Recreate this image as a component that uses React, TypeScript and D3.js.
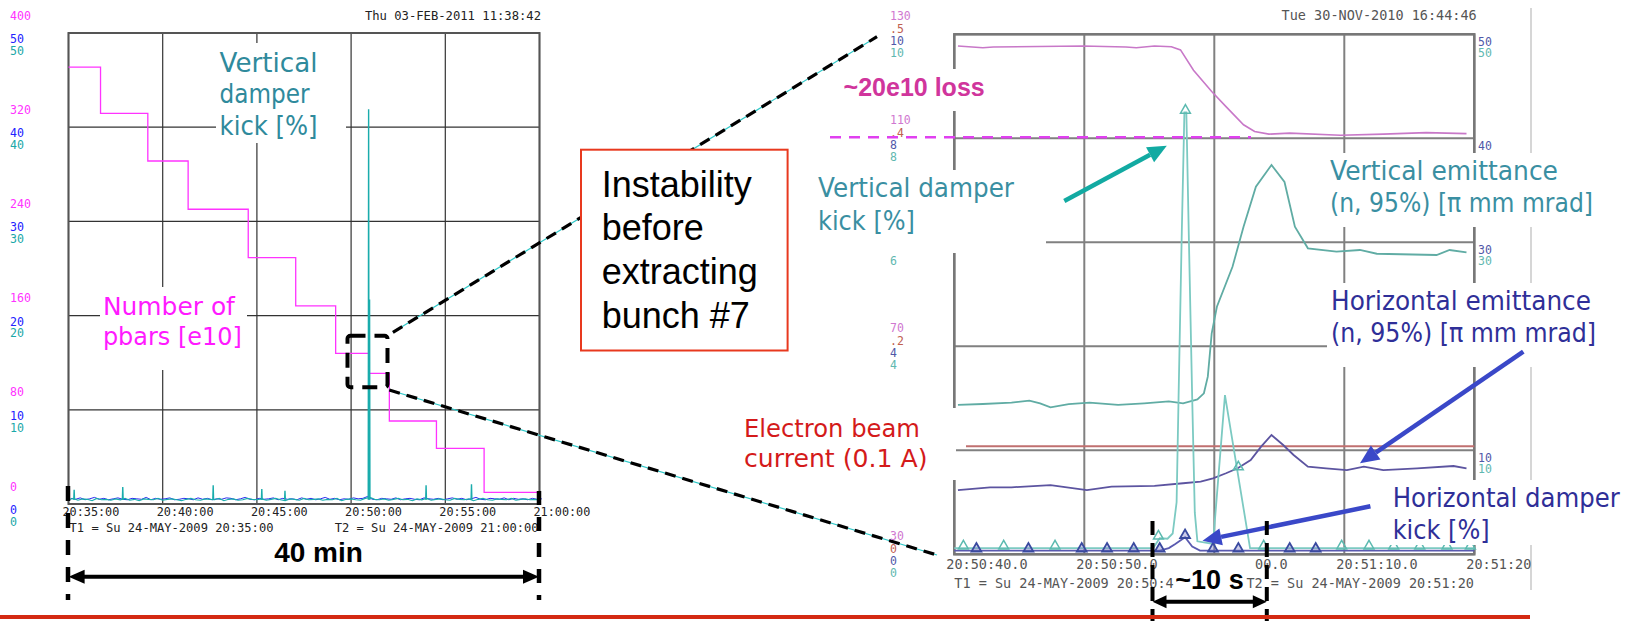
import React from "react";
import * as d3 from "d3";

// ================= LEFT PANEL DATA (minutes after 20:35:00) =================
const leftTimeLabels = ["20:35:00", "20:40:00", "20:45:00", "20:50:00", "20:55:00", "21:00:00"];
const leftTimeTicks = [0, 5, 10, 15, 20, 25];
const leftPbarTicks = [0, 80, 160, 240, 320, 400];
const leftKickTicks = [0, 10, 20, 30, 40, 50];

// Number of pbars [e10] – staircase
const pbarStepTimes = [0, 1.7, 4.21, 6.35, 9.54, 12.06, 14.18, 15.95, 17.03, 19.53, 22.06, 25];
const pbarStepValues = [371, 331.7, 291.3, 250.3, 209.2, 168.2, 128.0, 111.0, 70.5, 47.3, 9.9, 9.9];

// damper kick baselines, sampled every 0.25 min
const noiseStep = 0.25;
const tealNoise = [
  0.45, 0.6, 0.4, 0.55, 0.5, 0.35, 0.6, 0.45, 0.5, 0.4,
  0.55, 0.45, 0.6, 0.4, 0.5, 0.35, 0.55, 0.5, 0.45, 0.6,
  0.4, 0.5, 0.55, 0.45, 0.35, 0.5, 0.6, 0.45, 0.4, 0.55,
  0.5, 0.45, 0.6, 0.35, 0.5, 0.55, 0.4, 0.45, 0.6, 0.5,
  0.45, 0.55, 0.4, 0.5, 0.6, 0.45, 0.35, 0.55, 0.5, 0.4,
  0.6, 0.45, 0.5, 0.55, 0.4, 0.5, 0.45, 0.6, 0.35, 0.5,
  0.55, 0.45, 0.4, 0.6, 0.7, 0.5, 0.45, 0.55, 0.4, 0.5,
  0.6, 0.45, 0.5, 0.35, 0.55, 0.45, 0.6, 0.4, 0.5, 0.55,
  0.45, 0.4, 0.6, 0.5, 0.45, 0.55, 0.35, 0.5, 0.6, 0.45,
  0.4, 0.55, 0.5, 0.45, 0.6, 0.4, 0.5, 0.55, 0.45, 0.5, 0.4,
];
const blueNoise = [
  0.6, 0.5, 0.65, 0.45, 0.55, 0.7, 0.5, 0.6, 0.45, 0.55,
  0.65, 0.5, 0.45, 0.6, 0.55, 0.5, 0.7, 0.45, 0.6, 0.5,
  0.55, 0.65, 0.45, 0.5, 0.6, 0.55, 0.45, 0.65, 0.5, 0.6,
  0.45, 0.55, 0.5, 0.65, 0.6, 0.45, 0.55, 0.7, 0.5, 0.45,
  0.6, 0.5, 0.55, 0.65, 0.45, 0.6, 0.5, 0.55, 0.45, 0.65,
  0.5, 0.6, 0.45, 0.55, 0.7, 0.5, 0.6, 0.45, 0.55, 0.5,
  0.65, 0.55, 0.6, 0.8, 0.5, 0.45, 0.6, 0.55, 0.5, 0.65,
  0.45, 0.55, 0.6, 0.5, 0.45, 0.65, 0.55, 0.5, 0.6, 0.45,
  0.55, 0.65, 0.5, 0.6, 0.45, 0.55, 0.7, 0.5, 0.45, 0.6,
  0.55, 0.5, 0.65, 0.45, 0.6, 0.5, 0.55, 0.45, 0.6, 0.5, 0.55,
];
// vertical damper kick spikes
const tealSpikeTimes = [0.3, 2.88, 7.68, 10.26, 11.49, 18.98, 21.39, 15.93, 15.98];
const tealSpikeValues = [1.5, 1.8, 2.0, 1.6, 1.4, 2.0, 2.1, 41.9, 21.7];

// ================= RIGHT PANEL DATA (seconds after 20:50:40) =================
const rightTimeLabels = ["20:50:40.0", "20:50:50.0", "00.0", "20:51:10.0", "20:51:20"];
const rightTimeTicks = [0, 10, 20, 30, 40];
const rightLabelShift = [0, 0, 6, 0, 0]; // characters hidden by the "~10 s" caption
// left-hand stacked scales (pbars, e-beam current, H kick, V kick); null = hidden by a caption
const rPbarTicks = ["30", null, "70", null, "110", "130"];
const rCurrentTicks = ["0", null, ".2", null, ".4", ".5"];
const rHKickTicks = ["0", null, "4", null, "8", "10"];
const rVKickTicks = ["0", null, "4", "6", "8", "10"];
// right-hand scales (H emittance, V emittance)
const rHEmitTicks = [null, "10", null, "30", "40", "50"];
const rVEmitTicks = [null, "10", null, "30", null, "50"];

const pbarT = [0.28, 2.2, 3.0, 9.9, 13.2, 14.0, 15.4, 16.7, 17.4, 18.4, 19.8, 20.9, 22.25, 23.1, 24.2, 25.8, 29.7, 33.0, 36.3, 39.4];
const pbarV = [127.75, 127.4, 127.55, 127.75, 127.55, 127.4, 127.75, 127.6, 127.0, 123.1, 119.0, 116.1, 112.6, 111.3, 110.8, 111.0, 110.6, 110.8, 111.1, 110.9];
const lossLevel = 110.2;

const vEmitT = [0.28, 2.2, 4.4, 5.77, 6.6, 7.4, 8.8, 10.4, 12.6, 14.6, 16.5, 17.6, 18.7, 19.2, 19.5, 19.8, 20.2, 21.4, 22.25, 23.2, 24.4, 25.4, 26.2, 27.2, 29.4, 31.2, 32.5, 37.1, 38.1, 39.4];
const vEmitV = [14.36, 14.45, 14.58, 14.77, 14.52, 14.13, 14.45, 14.58, 14.36, 14.52, 14.7, 14.52, 14.9, 15.48, 17.08, 21.25, 23.8, 27.65, 31.5, 35.35, 37.43, 35.8, 31.5, 29.42, 29.1, 29.26, 28.9, 28.78, 29.26, 29.04];

const hEmitT = [0.28, 2.75, 4.4, 7.4, 10.2, 12.1, 15.4, 17.6, 18.95, 19.9, 20.9, 21.8, 22.8, 23.6, 24.4, 25.3, 26.1, 27.2, 28.6, 30.2, 31.5, 33.0, 35.6, 38.4, 39.4];
const hEmitV = [6.18, 6.44, 6.44, 6.66, 6.18, 6.5, 6.57, 6.83, 6.98, 7.31, 7.79, 8.27, 9.07, 10.35, 11.47, 10.51, 9.55, 8.42, 8.27, 8.1, 8.42, 8.1, 8.27, 8.49, 8.27];

const beamT = [0.9, 40];
const beamV = [0.104, 0.104];

const vKickT = [0, 15.3, 15.8, 16.4, 16.8, 17.1, 17.25, 17.5, 17.7, 17.85, 18.05, 18.3, 18.5, 18.7, 19.9, 20.82, 22.75, 40];
const vKickV = [0.12, 0.12, 0.31, 0.3, 0.4, 1.0, 3.0, 6.2, 8.5, 8.5, 6.0, 3.0, 0.8, 0.25, 0.2, 3.06, 0.12, 0.12];
const hKickT = [0, 15.8, 16.5, 17.0, 17.75, 18.3, 18.9, 40];
const hKickV = [0.07, 0.07, 0.12, 0.2, 0.33, 0.15, 0.07, 0.07];

const vKickMarkT = [0.7, 3.8, 7.75, 15.7, 17.78, 23.8, 29.8, 31.9, 33.8, 35.8, 37.9, 39.7];
const vKickMarkV = [0.12, 0.12, 0.12, 0.31, 8.5, 0.12, 0.12, 0.12, 0.12, 0.12, 0.12, 0.12];
const hKickMarkT = [1.7, 5.7, 9.8, 11.75, 13.8, 15.8, 17.75, 19.9, 21.85, 25.8, 27.8];
const hKickMarkV = [0.07, 0.07, 0.07, 0.07, 0.07, 0.07, 0.33, 0.07, 0.07, 0.07, 0.07];
const hEmitMarkT = [21.85];
const hEmitMarkV = [8.3];

// ================= LAYOUT =================
const LP = { x0: 68.5, x1: 539.5, y0: 33, y1: 504 };
const RP = { x0: 954.3, x1: 1474.3, y0: 34.3, y1: 554.3 };

const lx = d3.scaleLinear().domain([0, 25]).range([LP.x0, LP.x1]);
const lyKick = d3.scaleLinear().domain([0, 50]).range([LP.y1, LP.y0]);
const lyPbar = d3.scaleLinear().domain([0, 400]).range([LP.y1, LP.y0]);

const rx = d3.scaleLinear().domain([0, 40]).range([RP.x0, RP.x1]);
const ryPbar = d3.scaleLinear().domain([30, 130]).range([RP.y1, RP.y0]);
const ryCur = d3.scaleLinear().domain([0, 0.5]).range([RP.y1, RP.y0]);
const ryKick = d3.scaleLinear().domain([0, 10]).range([RP.y1, RP.y0]);
const ryEmit = d3.scaleLinear().domain([0, 50]).range([RP.y1, RP.y0]);

const mono = "'DejaVu Sans Mono', monospace";
const comic = "'DejaVu Sans', 'Noto Sans', sans-serif";
const arial = "'Liberation Sans', Arial, sans-serif";
const monoCharW = 13.5 * 0.602;

const zip = (a: number[], b: number[]) => a.map((v, i) => [v, b[i]] as [number, number]);

function Arrow({ x1, y1, x2, y2, color, width = 4.5, head = 18, headW = 16 }: any) {
  const ang = Math.atan2(y2 - y1, x2 - x1);
  const bx = x2 - head * Math.cos(ang);
  const by = y2 - head * Math.sin(ang);
  const px = (-Math.sin(ang) * headW) / 2;
  const py = (Math.cos(ang) * headW) / 2;
  return (
    <g>
      <line x1={x1} y1={y1} x2={bx} y2={by} stroke={color} strokeWidth={width} />
      <polygon points={`${x2},${y2} ${bx + px},${by + py} ${bx - px},${by - py}`} fill={color} />
    </g>
  );
}

function DoubleArrow({ x1, x2, y, head = 16, headW = 14, width = 4 }: any) {
  return (
    <g>
      <line x1={x1 + head - 1} x2={x2 - head + 1} y1={y} y2={y} stroke="#000" strokeWidth={width} />
      <polygon points={`${x1},${y} ${x1 + head},${y - headW / 2} ${x1 + head},${y + headW / 2}`} fill="#000" />
      <polygon points={`${x2},${y} ${x2 - head},${y - headW / 2} ${x2 - head},${y + headW / 2}`} fill="#000" />
    </g>
  );
}

function Note({ lines, x, base, len, size, color, box, weight = 400, family = comic }: any) {
  return (
    <g>
      {box && <rect x={box[0]} y={box[1]} width={box[2]} height={box[3]} fill="#fff" />}
      {lines.map((t: string, i: number) => (
        <text
          key={i}
          x={x}
          y={base[i]}
          fontSize={size}
          fontFamily={family}
          fontWeight={weight}
          fill={color}
          textLength={len ? len[i] : undefined}
          lengthAdjust={len ? "spacingAndGlyphs" : undefined}
        >
          {t}
        </text>
      ))}
    </g>
  );
}

function Tick({ x, y, text, color, size = 11.5 }: any) {
  if (text === null || text === undefined) return null;
  return (
    <text x={x} y={y} dominantBaseline="central" fontFamily={mono} fontSize={size} fill={color}>
      {text}
    </text>
  );
}

export default function App() {
  const lLine = (ys: any) =>
    d3
      .line<[number, number]>()
      .x((d) => lx(d[0]))
      .y((d) => ys(d[1]));
  const rLine = (ys: any) =>
    d3
      .line<[number, number]>()
      .x((d) => rx(d[0]))
      .y((d) => ys(d[1]));

  const pbarStep = d3
    .line<[number, number]>()
    .x((d) => lx(d[0]))
    .y((d) => lyPbar(d[1]))
    .curve(d3.curveStepAfter);

  const tealSeries = tealNoise.map((v, i) => [i * noiseStep, v] as [number, number]);
  const blueSeries = blueNoise.map((v, i) => [i * noiseStep + noiseStep / 2, v] as [number, number]);
  const tri = d3.symbol().type(d3.symbolTriangle).size(42)() as string;
  const rightGrid = [0, 10, 20, 30, 40, 50];

  return (
    <svg
      width={1638}
      height={621}
      style={{ position: "absolute", left: 0, top: 0, background: "#fff" }}
    >
      <rect x={0} y={0} width={1638} height={621} fill="#fff" />

      {/* ================= LEFT PANEL ================= */}
      <text x={541} y={19.5} textAnchor="end" fontFamily={mono} fontSize={12.2} fill="#222">
        Thu 03-FEB-2011 11:38:42
      </text>
      {leftKickTicks.map((v, i) => (
        <g key={"lg" + i}>
          <line x1={LP.x0} x2={LP.x1} y1={lyKick(v)} y2={lyKick(v)} stroke="#333" strokeWidth={1.2} />
          <Tick x={10} y={lyKick(v) - 17.5} text={String(leftPbarTicks[i])} color="#ff33ff" size={11.6} />
          <Tick x={10} y={lyKick(v) + 6} text={String(v)} color="#2222ff" size={11.6} />
          <Tick x={10} y={lyKick(v) + 17.8} text={String(v)} color="#1aa8a8" size={11.6} />
        </g>
      ))}
      {leftTimeTicks.map((t, i) => (
        <g key={"lt" + i}>
          <line x1={lx(t)} x2={lx(t)} y1={LP.y0} y2={LP.y1} stroke="#333" strokeWidth={1.2} />
          <text x={lx(t) - 6} y={511.7} dominantBaseline="central" fontFamily={mono} fontSize={11.8} fill="#222">
            {leftTimeLabels[i]}
          </text>
        </g>
      ))}
      <rect x={LP.x0} y={LP.y0} width={LP.x1 - LP.x0} height={LP.y1 - LP.y0} fill="none" stroke="#555" strokeWidth={2} />
      <text x={69.6} y={528.3} dominantBaseline="central" fontFamily={mono} fontSize={12.1} fill="#222">
        T1 = Su 24-MAY-2009 20:35:00
      </text>
      <text x={538.6} y={528.3} textAnchor="end" dominantBaseline="central" fontFamily={mono} fontSize={12.1} fill="#222">
        T2 = Su 24-MAY-2009 21:00:00
      </text>

      {/* data */}
      <path d={pbarStep(zip(pbarStepTimes, pbarStepValues)) as string} fill="none" stroke="#ff33ff" strokeWidth={1.3} />
      <path d={lLine(lyKick)(blueSeries) as string} fill="none" stroke="#2a2aee" strokeWidth={1} />
      <path d={lLine(lyKick)(tealSeries) as string} fill="none" stroke="#1aacac" strokeWidth={1.2} />
      {tealSpikeTimes.map((t, i) => (
        <path
          key={"sp" + i}
          d={lLine(lyKick)([[t - 0.02, 0.45], [t, tealSpikeValues[i]], [t + 0.02, 0.45]]) as string}
          fill="none"
          stroke="#1aacac"
          strokeWidth={1.4}
        />
      ))}

      <Note
        lines={["Vertical", "damper", "kick [%]"]}
        x={219.6}
        base={[71.7, 103.3, 135]}
        len={[98, 90, 98]}
        size={27}
        color="#2f8a9c"
        box={[216, 43, 130, 100]}
      />
      <Note
        lines={["Number of", "pbars [e10]"]}
        x={102.9}
        base={[315, 345]}
        len={[132, 139]}
        size={25.5}
        color="#ff1aff"
        box={[100, 287, 147, 83]}
      />

      {/* zoom box */}
      <rect x={347.5} y={335.7} width={40} height={51.6} rx={3} fill="none" stroke="#000" strokeWidth={4} strokeDasharray="15 9" />

      {/* connectors */}
      <line x1={392.9} y1={332.3} x2={877} y2={36.7} stroke="#30c8c8" strokeWidth={1.2} />
      <line x1={392.9} y1={332.3} x2={877} y2={36.7} stroke="#000" strokeWidth={3.2} strokeDasharray="11 7" />
      <line x1={389.3} y1={390} x2={937} y2={555} stroke="#30c8c8" strokeWidth={1.2} />
      <line x1={389.3} y1={390} x2={937} y2={555} stroke="#000" strokeWidth={3.2} strokeDasharray="11 7" />

      {/* 40 min */}
      <line x1={68} x2={68} y1={486} y2={600} stroke="#000" strokeWidth={4.5} strokeDasharray="15 12" />
      <line x1={539} x2={539} y1={491} y2={600} stroke="#000" strokeWidth={4.5} strokeDasharray="14 12" />
      <text x={318.5} y={561.7} textAnchor="middle" fontFamily={arial} fontWeight={700} fontSize={28} fill="#000">
        40 min
      </text>
      <DoubleArrow x1={68.6} x2={539} y={576.7} head={16} headW={14} width={4} />

      {/* Instability box */}
      <rect x={581} y={149.7} width={206.6} height={200.8} fill="#fff" stroke="#e8391e" strokeWidth={2} />
      {["Instability", "before", "extracting", "bunch #7"].map((t, i) => (
        <text key={"ib" + i} x={601.7} y={196.8 + i * 43.6} fontFamily={arial} fontSize={36} fill="#000">
          {t}
        </text>
      ))}

      {/* ================= RIGHT PANEL ================= */}
      <line x1={1531} x2={1531} y1={8} y2={590} stroke="#c8c8c8" strokeWidth={1.5} />
      <text x={1476.7} y={19.5} textAnchor="end" fontFamily={mono} fontSize={13.5} fill="#555">
        Tue 30-NOV-2010 16:44:46
      </text>
      {rightGrid.map((g, i) => {
        const y = ryEmit(g);
        return (
          <g key={"rg" + i}>
            <line x1={RP.x0} x2={RP.x1} y1={y} y2={y} stroke="#808080" strokeWidth={2} />
            <Tick x={890} y={y - 18.6} text={rPbarTicks[i]} color="#d078d0" />
            <Tick x={890} y={y - 5.3} text={rCurrentTicks[i]} color="#c06050" />
            <Tick x={890} y={y + 6.4} text={rHKickTicks[i]} color="#5058a8" />
            <Tick x={890} y={y + 19} text={rVKickTicks[i]} color="#60b8b0" />
            <Tick x={1478} y={y + 7.4} text={rHEmitTicks[i]} color="#5058a8" />
            <Tick x={1478} y={y + 19} text={rVEmitTicks[i]} color="#60b8b0" />
          </g>
        );
      })}
      {rightTimeTicks.map((t, i) => (
        <g key={"rt" + i}>
          <line x1={rx(t)} x2={rx(t)} y1={RP.y0} y2={RP.y1} stroke="#808080" strokeWidth={2} />
          <text
            x={rx(t) - 8 + rightLabelShift[i] * monoCharW}
            y={564}
            dominantBaseline="central"
            fontFamily={mono}
            fontSize={13.5}
            fill="#555"
          >
            {rightTimeLabels[i]}
          </text>
        </g>
      ))}
      <rect x={RP.x0} y={RP.y0} width={RP.x1 - RP.x0} height={RP.y1 - RP.y0} fill="none" stroke="#777" strokeWidth={2.5} />
      <text x={954.3} y={582.7} dominantBaseline="central" fontFamily={mono} fontSize={13.5} fill="#555">
        T1 = Su 24-MAY-2009 20:50:4
      </text>
      <text x={1474} y={582.7} textAnchor="end" dominantBaseline="central" fontFamily={mono} fontSize={13.5} fill="#555">
        T2 = Su 24-MAY-2009 20:51:20
      </text>

      {/* right data */}
      <path d={rLine(ryCur)(zip(beamT, beamV)) as string} fill="none" stroke="#c07070" strokeWidth={2} />
      <path d={rLine(ryPbar)(zip(pbarT, pbarV)) as string} fill="none" stroke="#c878c8" strokeWidth={1.6} />
      <path d={rLine(ryEmit)(zip(vEmitT, vEmitV)) as string} fill="none" stroke="#60aca4" strokeWidth={1.8} />
      <path d={rLine(ryEmit)(zip(hEmitT, hEmitV)) as string} fill="none" stroke="#5c54a0" strokeWidth={1.8} />
      <path d={rLine(ryKick)(zip(hKickT, hKickV)) as string} fill="none" stroke="#5a5ab0" strokeWidth={1.8} />
      <path d={rLine(ryKick)(zip(vKickT, vKickV)) as string} fill="none" stroke="#7ccac2" strokeWidth={1.8} />
      {hKickMarkT.map((t, i) => (
        <path key={"hm" + i} d={tri} transform={`translate(${rx(t)},${ryKick(hKickMarkV[i]) - 2})`} fill="#8080c8" fillOpacity={0.4} stroke="#3a4aa0" strokeWidth={1.8} />
      ))}
      {vKickMarkT.map((t, i) => (
        <path key={"vm" + i} d={tri} transform={`translate(${rx(t)},${ryKick(vKickMarkV[i]) - 2})`} fill="none" stroke="#5cbab0" strokeWidth={1.5} />
      ))}
      {hEmitMarkT.map((t, i) => (
        <path key={"em" + i} d={tri} transform={`translate(${rx(t)},${ryEmit(hEmitMarkV[i]) - 1})`} fill="none" stroke="#5cbab0" strokeWidth={1.5} />
      ))}

      {/* loss line */}
      <line x1={830} x2={1251} y1={ryPbar(lossLevel)} y2={ryPbar(lossLevel)} stroke="#e040f0" strokeWidth={2.5} strokeDasharray="11 8" />

      <Note lines={["~20e10 loss"]} x={843.6} base={[96]} size={25} color="#d0359c" weight={700} family={arial} box={[838, 69, 158, 42]} />
      <Note
        lines={["Vertical damper", "kick [%]"]}
        x={818}
        base={[197.3, 230]}
        len={[196, 97]}
        size={26}
        color="#3a8fa2"
        box={[813, 170, 233, 83]}
      />
      <Note
        lines={["Vertical emittance", "(n, 95%) [\u03c0 mm mrad]"]}
        x={1330}
        base={[180, 212]}
        len={[228, 263]}
        size={26}
        color="#3a8fa2"
        box={[1326, 153, 275, 74]}
      />
      <Note
        lines={["Horizontal emittance", "(n, 95%) [\u03c0 mm mrad]"]}
        x={1331}
        base={[310, 341.7]}
        len={[260, 265]}
        size={26}
        color="#2f2f98"
        box={[1327, 283, 275, 84]}
      />
      <Note
        lines={["Horizontal damper", "kick [%]"]}
        x={1392.7}
        base={[506.7, 539.3]}
        len={[227, 97]}
        size={26}
        color="#2f2f98"
        box={[1388, 480, 240, 65]}
      />
      <Note
        lines={["Electron beam", "current (0.1 A)"]}
        x={744}
        base={[436.7, 466.7]}
        len={[176, 183.5]}
        size={25}
        color="#d41a1a"
        box={[738, 408, 218, 72]}
      />

      <Arrow x1={1064.3} y1={201} x2={1166.8} y2={145.7} color="#12aaa2" width={4.5} head={19} headW={17} />
      <Arrow x1={1523.3} y1={351.7} x2={1360} y2={463.3} color="#3a48c8" width={4.5} head={19} headW={17} />
      <Arrow x1={1370.4} y1={506.3} x2={1202.5} y2={540.7} color="#3a48c8" width={4.5} head={19} headW={17} />

      {/* ~10 s */}
      <line x1={1152.5} x2={1152.5} y1={521} y2={621} stroke="#000" strokeWidth={4} strokeDasharray="14 8" />
      <line x1={1266.8} x2={1266.8} y1={521} y2={621} stroke="#000" strokeWidth={4} strokeDasharray="14 8" />
      <text x={1209.5} y={589.3} textAnchor="middle" fontFamily={arial} fontWeight={700} fontSize={27} fill="#000">
        ~10 s
      </text>
      <DoubleArrow x1={1152.5} x2={1266.8} y={601.7} head={14} headW={13} width={4} />

      {/* bottom red rule */}
      <line x1={0} x2={1530} y1={617} y2={617} stroke="#d42a12" strokeWidth={4} />
    </svg>
  );
}
